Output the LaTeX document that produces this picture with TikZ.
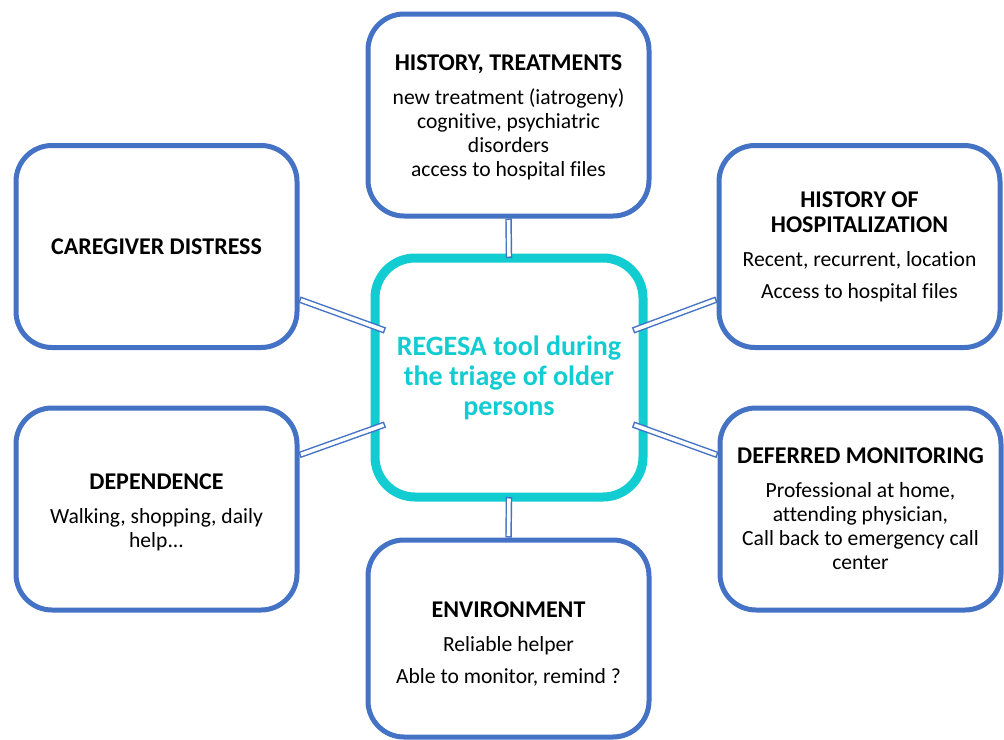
\documentclass[tikz,border=0pt]{standalone}
\usepackage{fontspec}
\setmainfont{Carlito}[Ligatures=NoCommon]
\usetikzlibrary{calc}
\definecolor{boxblue}{RGB}{68,114,196}
\definecolor{toolcyan}{RGB}{17,204,208}
\def\head#1{{\bfseries\fontsize{24}{25}\selectfont #1}}
\def\connect(#1)(#2){\draw[linkedge] (#1) -- (#2); \draw[linkcore] (#1) -- (#2);}
\tikzset{
  topic/.style={draw=boxblue, line width=5pt, rounded corners=36pt, fill=white,
    minimum width=281pt, minimum height=202pt, inner sep=0pt, align=center,
    font=\fontsize{21.6}{24}\selectfont},
  toolbox/.style={draw=toolcyan, line width=9pt, rounded corners=40pt, fill=white,
    minimum width=268pt, minimum height=239pt, outer sep=0pt, align=center,
    text=toolcyan, font=\bfseries\fontsize{28}{30}\selectfont},
  linkedge/.style={draw=boxblue, line width=6.5pt},
  linkcore/.style={draw=white, line width=3.6pt, shorten <=1.5pt, shorten >=1.5pt}
}

\begin{document}
\begin{tikzpicture}[x=1pt, y=-1pt]
		%%%%% START %%%%%
		\useasboundingbox (0, 0) rectangle (1004, 739);
		
		\node[topic] (hist) at (508.5, 115) {\rule{0pt}{19.5pt}\head{HISTORY, TREATMENTS}\\[10pt]new treatment (iatrogeny)\\cognitive, psychiatric\\disorders\\access to hospital files};
		\node[topic] (care) at (156.5, 246.5) {\head{CAREGIVER DISTRESS}};
		\node[topic] (hosp) at (859.5, 246.5) {\head{HISTORY OF}\\[1pt]\head{HOSPITALIZATION}\\[10pt]Recent, recurrent, location\\[8pt]Access to hospital files};
		\node[topic] (dep) at (156.5, 509) {\rule{0pt}{22pt}\head{DEPENDENCE}\\[10pt]Walking, shopping, daily\\help...};
		\node[topic] (defer) at (860.5, 509) {\head{DEFERRED MONITORING}\\[10pt]Professional at home,\\attending physician,\\Call back to emergency call\\center};
		\node[topic, minimum height=197pt] (env) at (508.5, 638.5) {\rule{0pt}{27.5pt}\head{ENVIRONMENT}\\[10pt]Reliable helper\\[8pt]Able to monitor, remind ?};
		
		\node[toolbox] (tool) at (509, 377.5) {REGESA tool during\\the triage of older\\persons};
		
		%%%%% links %%%%%
		\coordinate (c1) at ($(care.east)+(0, 53)$);
		\coordinate (t1) at ($(tool.west)+(10, -47)$);
		\coordinate (c2) at ($(dep.east)+(0, -54)$);
		\coordinate (t2) at ($(tool.west)+(10, 47)$);
		\coordinate (c3) at ($(hosp.west)+(0, 53)$);
		\coordinate (t3) at ($(tool.east)+(-10, -47)$);
		\coordinate (c4) at ($(defer.west)+(0, -54)$);
		\coordinate (t4) at ($(tool.east)+(-10, 47)$);
		
		\connect(hist.south)(tool.north)
		\connect(tool.south)(env.north)
		\connect(c1)(t1)
		\connect(c2)(t2)
		\connect(c3)(t3)
		\connect(c4)(t4)
		
		%%%%% END %%%%%
	\end{tikzpicture}
\end{document}
